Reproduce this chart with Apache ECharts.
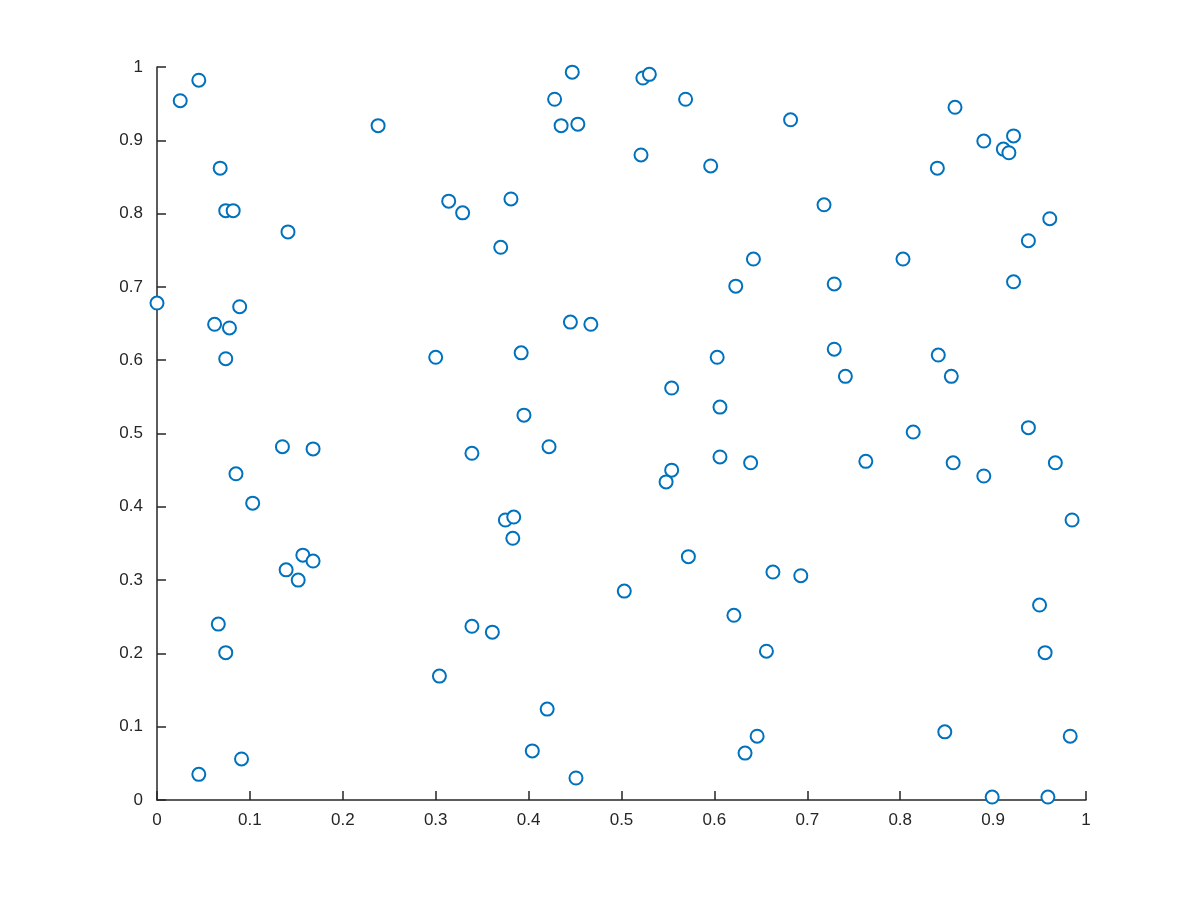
<!DOCTYPE html>
<html>
<head>
<meta charset="utf-8">
<script src="https://cdn.jsdelivr.net/npm/echarts@6/dist/echarts.min.js"></script>
<style>
  html, body { margin: 0; padding: 0; background: #fff; }
  #chart { width: 1200px; height: 900px; }
</style>
</head>
<body>
<div id="chart"></div>
<script>
// scatter values
var xs = [0.000, 0.025, 0.045, 0.068, 0.074, 0.082, 0.141, 0.089, 0.062, 0.078,
          0.074, 0.135, 0.168, 0.085, 0.103, 0.157, 0.168, 0.139, 0.152, 0.066,
          0.074, 0.045, 0.091, 0.238, 0.314, 0.329, 0.300, 0.339, 0.304, 0.339,
          0.361, 0.381, 0.370, 0.392, 0.395, 0.375, 0.384, 0.383, 0.422, 0.420,
          0.404, 0.451, 0.428, 0.447, 0.435, 0.453, 0.445, 0.467, 0.523, 0.530,
          0.521, 0.569, 0.503, 0.554, 0.554, 0.548, 0.572, 0.596, 0.603, 0.606,
          0.606, 0.623, 0.642, 0.639, 0.621, 0.656, 0.663, 0.693, 0.646, 0.633,
          0.682, 0.718, 0.729, 0.729, 0.741, 0.763, 0.803, 0.814, 0.840, 0.859,
          0.841, 0.855, 0.857, 0.848, 0.890, 0.911, 0.917, 0.922, 0.961, 0.938,
          0.922, 0.938, 0.967, 0.890, 0.985, 0.950, 0.956, 0.983, 0.899, 0.959];
var ys = [0.678, 0.954, 0.982, 0.862, 0.804, 0.804, 0.775, 0.673, 0.649, 0.644,
          0.602, 0.482, 0.479, 0.445, 0.405, 0.334, 0.326, 0.314, 0.300, 0.240,
          0.201, 0.035, 0.056, 0.920, 0.817, 0.801, 0.604, 0.473, 0.169, 0.237,
          0.229, 0.820, 0.754, 0.610, 0.525, 0.382, 0.386, 0.357, 0.482, 0.124,
          0.067, 0.030, 0.956, 0.993, 0.920, 0.922, 0.652, 0.649, 0.985, 0.990,
          0.880, 0.956, 0.285, 0.562, 0.450, 0.434, 0.332, 0.865, 0.604, 0.536,
          0.468, 0.701, 0.738, 0.460, 0.252, 0.203, 0.311, 0.306, 0.087, 0.064,
          0.928, 0.812, 0.704, 0.615, 0.578, 0.462, 0.738, 0.502, 0.862, 0.945,
          0.607, 0.578, 0.460, 0.093, 0.899, 0.888, 0.883, 0.906, 0.793, 0.763,
          0.707, 0.508, 0.460, 0.442, 0.382, 0.266, 0.201, 0.087, 0.004, 0.004];

var points = xs.map(function (x, i) { return [x, ys[i]]; });

var axisColor = '#262626';
function axisCfg() {
  return {
    type: 'value',
    min: 0,
    max: 1,
    interval: 0.1,
    axisLine: { show: true, onZero: false, lineStyle: { color: axisColor, width: 1.5 } },
    axisTick: { show: true, inside: true, length: 9, lineStyle: { color: axisColor, width: 1.5 } },
    axisLabel: {
      color: axisColor,
      fontSize: 17,
      fontFamily: 'Liberation Sans, Arial, sans-serif',
      formatter: function (v) { return String(+v.toFixed(1)); }
    },
    splitLine: { show: false }
  };
}

var chart = echarts.init(document.getElementById('chart'));
var xAxis = axisCfg();
xAxis.axisLabel.margin = 12;
var yAxis = axisCfg();
yAxis.axisLabel.margin = 14;

chart.setOption({
  animation: false,
  grid: { left: 157, right: 114, top: 67, bottom: 100, containLabel: false },
  xAxis: xAxis,
  yAxis: yAxis,
  series: [{
    type: 'scatter',
    data: points,
    symbol: 'emptyCircle',
    symbolSize: 13,
    itemStyle: { color: '#0072BD', borderColor: '#0072BD', borderWidth: 2, opacity: 1 }
  }]
});
</script>
</body>
</html>
